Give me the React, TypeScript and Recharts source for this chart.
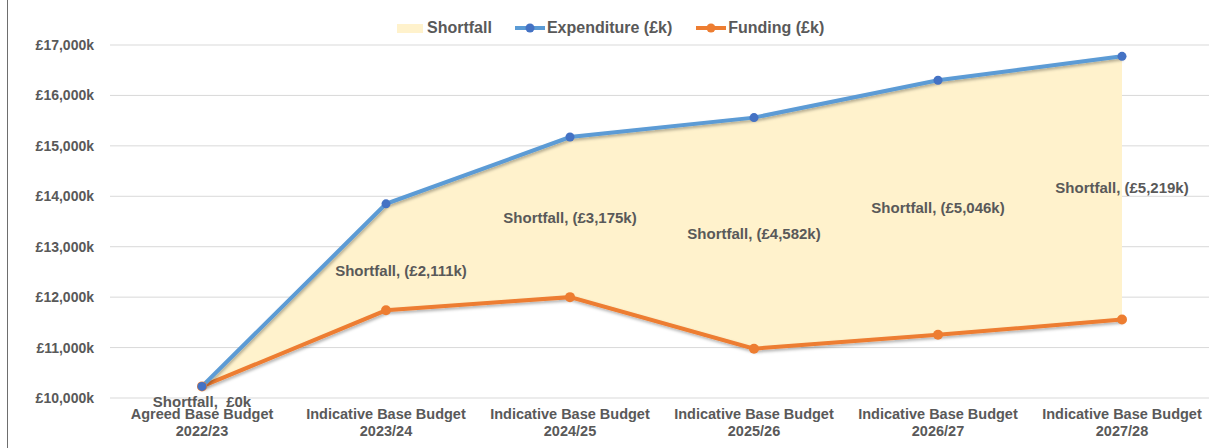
import React from "react";
import { ComposedChart, Area, Line, XAxis, YAxis, CartesianGrid, LabelList } from "recharts";

const categories = [
  "Agreed Base Budget 2022/23",
  "Indicative Base Budget 2023/24",
  "Indicative Base Budget 2024/25",
  "Indicative Base Budget 2025/26",
  "Indicative Base Budget 2026/27",
  "Indicative Base Budget 2027/28",
];
const expenditure = [10230, 13850, 15175, 15560, 16300, 16775];
const funding = [10230, 11739, 12000, 10978, 11254, 11556];
const shortfall = [0, 2111, 3175, 4582, 5046, 5219];
const yTicks = [10000, 11000, 12000, 13000, 14000, 15000, 16000, 17000];

const data = categories.map((c, i) => ({
  category: c,
  expenditure: expenditure[i],
  funding: funding[i],
  range: [funding[i], expenditure[i]],
  mid: (funding[i] + expenditure[i]) / 2,
  shortfall: shortfall[i],
}));

const FONT = '"Liberation Sans", Arial, sans-serif';
const TEXT = "#595959";

const fmtK = (v: number) => `£${v.toLocaleString("en-GB")}k`;
const shortfallText = (v: number) => (v === 0 ? "Shortfall,\u00a0 £0k" : `Shortfall, (${fmtK(v)})`);

const XTick = (props: any) => {
  const { x, y, payload } = props;
  const s: string = payload.value;
  const idx = s.lastIndexOf(" ");
  return (
    <text x={x} y={y} textAnchor="middle" fill={TEXT} fontFamily={FONT} fontWeight="bold" fontSize={14.5}>
      <tspan x={x} dy={21}>{s.slice(0, idx)}</tspan>
      <tspan x={x} dy={17}>{s.slice(idx + 1)}</tspan>
    </text>
  );
};

const ShortfallLabel = (props: any) => {
  const { x, y, index } = props;
  let dx = 0;
  let dy = 0;
  if (index === 0) dy = 15;
  if (index === 1) {
    dx = 15;
    dy = 13;
  }
  return (
    <text
      x={x + dx}
      y={y + dy}
      textAnchor="middle"
      dominantBaseline="central"
      fill={TEXT}
      fontFamily={FONT}
      fontWeight="bold"
      fontSize={15}
    >
      {shortfallText(shortfall[index])}
    </text>
  );
};

const LegendLine = ({ color, dot }: { color: string; dot: string }) => (
  <svg width={30} height={12} style={{ marginRight: 2 }}>
    <line x1={0} y1={6} x2={30} y2={6} stroke={color} strokeWidth={4} />
    <circle cx={15} cy={6} r={4.5} fill={dot} />
  </svg>
);

export default function App() {
  return (
    <div style={{ position: "absolute", left: 0, top: 0, width: 1209, height: 448, overflow: "hidden", background: "#fff" }}>
      <style>{`.shadowLine .recharts-line-curve, .shadowLine .recharts-line-dots { filter: url(#lineShadow); }`}</style>
      <svg width={0} height={0} style={{ position: "absolute" }}>
        <defs>
          <filter id="lineShadow" x="-10%" y="-10%" width="120%" height="130%">
            <feDropShadow dx={1} dy={2} stdDeviation={1.5} floodColor="#000" floodOpacity={0.3} />
          </filter>
        </defs>
      </svg>
      <div style={{ position: "absolute", left: 7, top: 0, width: 1, height: 448, background: "#6e6e6e" }} />
      <div
        style={{
          position: "absolute",
          left: 397,
          top: 19,
          display: "flex",
          alignItems: "center",
          fontFamily: FONT,
          fontWeight: "bold",
          fontSize: 16,
          color: TEXT,
          whiteSpace: "nowrap",
          zIndex: 2,
        }}
      >
        <div style={{ width: 26, height: 9, background: "#FFF2CC", marginRight: 4 }} />
        <span style={{ marginRight: 23 }}>Shortfall</span>
        <LegendLine color="#5B9BD5" dot="#4472C4" />
        <span style={{ marginRight: 24 }}>Expenditure (£k)</span>
        <LegendLine color="#ED7D31" dot="#ED7D31" />
        <span>Funding (£k)</span>
      </div>
      <ComposedChart width={1216} height={448} data={data} margin={{ top: 45, right: 2, bottom: 0, left: 0 }}>
        <CartesianGrid horizontal vertical={false} stroke="#d9d9d9" strokeWidth={1} />
        <XAxis
          dataKey="category"
          padding={{ left: 92, right: 92 }}
          tickLine={false}
          axisLine={false}
          tickSize={0}
          tickMargin={0}
          height={50}
          interval={0}
          tick={<XTick />}
        />
        <YAxis
          width={110}
          domain={[10000, 17000]}
          ticks={yTicks}
          tickFormatter={fmtK}
          axisLine={false}
          tickLine={false}
          tickSize={0}
          tickMargin={16}
          tick={{ fill: TEXT, fontFamily: FONT, fontWeight: "bold", fontSize: 14 }}
        />
        <Area
          dataKey="range"
          type="linear"
          fill="#FFF2CC"
          fillOpacity={1}
          stroke="none"
          isAnimationActive={false}
          activeDot={false}
        />
        <Line
          className="shadowLine"
          dataKey="funding"
          type="linear"
          stroke="#ED7D31"
          strokeWidth={4}
          dot={{ r: 5, fill: "#ED7D31", stroke: "#ED7D31", strokeWidth: 0 }}
          activeDot={false}
          isAnimationActive={false}
        />
        <Line
          className="shadowLine"
          dataKey="expenditure"
          type="linear"
          stroke="#5B9BD5"
          strokeWidth={4}
          dot={{ r: 4.5, fill: "#4472C4", stroke: "#4472C4", strokeWidth: 0 }}
          activeDot={false}
          isAnimationActive={false}
        />
        <Line dataKey="mid" stroke="none" dot={false} activeDot={false} isAnimationActive={false}>
          <LabelList dataKey="shortfall" content={<ShortfallLabel />} />
        </Line>
      </ComposedChart>
    </div>
  );
}
